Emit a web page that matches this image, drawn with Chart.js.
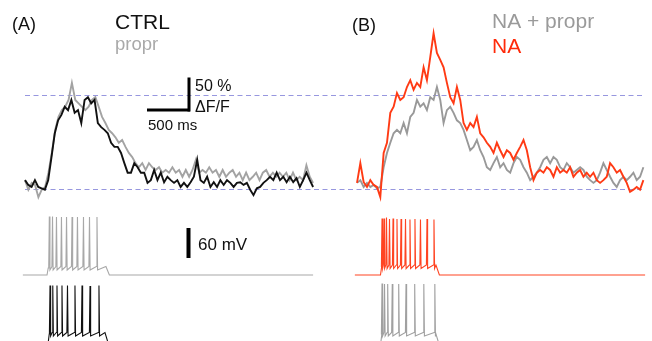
<!DOCTYPE html>
<html><head><meta charset="utf-8">
<script src="https://cdn.jsdelivr.net/npm/chart.js@4.4.0/dist/chart.umd.min.js"></script>
<style>html,body{margin:0;padding:0;background:#fff;overflow:hidden}#wrap{position:relative;width:652px;height:341px}canvas{display:block}</style>
</head><body><div id="wrap"><canvas id="c" width="652" height="341"></canvas></div>
<script>
// ===== DATA =====
// Calcium transients, % dF/F, evenly sampled over the trace duration (ms)
const ctrlA = [13,6,3,13,3,1,-1,13,47,82,101,109,121,116,131,112,116,97,131,135,126,131,97,91,87,82,68,62,62,53,38,24,24,38,32,24,24,9,13,28,13,24,10,18,13,9,13,3,9,3,10,18,43,13,9,18,3,10,3,13,6,13,9,3,9,10,6,9,-1,-9,1,3,9,13,18,13,24,13,18,10,18,10,16,3,13,24,13,3];
const proprA = [13,-1,9,6,-12,-1,3,24,53,87,106,116,121,131,156,131,126,121,116,121,131,135,121,106,97,87,82,76,68,72,62,53,47,38,32,38,28,38,32,28,32,24,28,24,32,24,28,18,28,18,28,43,24,28,24,32,24,28,18,28,18,24,28,18,24,13,24,13,18,24,13,24,28,18,24,18,24,18,24,13,24,13,18,13,35,18,9];
const naB = [9,38,10,3,13,6,3,-12,53,68,112,121,141,131,135,150,160,146,156,150,179,160,194,229,200,190,179,156,135,126,150,131,97,87,97,91,106,82,76,68,62,53,68,57,47,57,53,43,53,62,72,57,32,13,24,28,24,32,28,18,32,24,28,24,32,18,24,28,18,24,18,24,13,9,13,18,38,32,24,28,18,9,-4,-1,3,-1,13];
const naProprB = [9,13,3,9,3,6,1,3,32,53,68,82,87,82,97,82,106,112,131,121,126,116,135,131,150,131,97,116,121,112,101,97,87,72,57,62,72,57,47,32,28,38,47,32,38,28,24,38,47,43,32,24,13,18,24,32,43,47,38,47,43,32,28,38,32,24,28,32,28,18,13,9,13,24,38,28,18,9,3,13,18,13,18,24,13,18,32];
const durationA = 3350;   // ms
const durationB = 3330;   // ms
const refLevels = [0, 138]; // % dF/F dashed guides

// Membrane potential: spike times (ms), spike peaks (mV), step on/off (ms)
const restMv = -75;
const spikesProprA = [283,320,366,424,483,547,610,680,750,837];
const peaksProprA  = [42,42,41,41,41,41,41,41,41,41];
const stepProprA = [256, 953], plateauProprA = -61;
const spikesCtrlA = [291,323,372,430,494,581,663,756,860];
const peaksCtrlA  = [42,42,42,42,42,42,42,41,42];
const stepCtrlA = [268, 942], plateauCtrlA = -55;
const spikesNaB = [291,314,343,378,419,465,512,564,616,674,738,814,895];
const peaksNaB  = [38,38,40,37,38,37,37,37,36,37,36,37,36];
const stepNaB = [273, 930], plateauNaB = -58;
const spikesNaProprB = [291,320,357,410,485,570,671,777,905];
const peaksNaProprB  = [46,45,45,45,45,45,45,45,45];
const stepNaProprB = [275, 925], plateauNaProprB = -55;
const ephysSpan = [-25, 3350];

// Scale bars
const barMs = 500, barPct = 50, barMv = 60;

// ===== helpers =====
const W = 652, H = 341;
const pxPerMs = 43 / 500, pxPerPct = 0.68, pxPerMv = 0.5;
function xRange(originPx){ return {min: -originPx / pxPerMs, max: (W - originPx) / pxPerMs}; }
function yRange(v0, p0, k){ return {min: v0 - (H - p0) / k, max: v0 + p0 / k}; }
function series(vals, dur){ const dt = dur / (vals.length - 1); return vals.map((v,i)=>({x:i*dt, y:v})); }
function ephys(spikes, peaks, step, plateau){
  const p = [{x:ephysSpan[0], y:restMv},{x:step[0], y:restMv},{x:step[0]+14, y:plateau}];
  spikes.forEach((s,i)=>{
    p.push({x:s-7, y:plateau+3});
    p.push({x:s, y:peaks[i]});
    p.push({x:s+7, y:plateau-4});
  });
  p.push({x:step[1]-12, y:plateau+3});
  p.push({x:step[1]+28, y:restMv});
  p.push({x:ephysSpan[1], y:restMv});
  return p;
}
function ds(data, color, width, xId, yId){
  return {data, borderColor:color, borderWidth:width, pointRadius:0, tension:0, fill:false, xAxisID:xId, yAxisID:yId, spanGaps:true};
}

const rA = xRange(25), rB = xRange(357);
const rF = yRange(0, 189, pxPerPct);
const rE = yRange(restMv, 275, pxPerMv);
const rE2 = yRange(restMv, 344, pxPerMv);

const texts = [
  {t:'(A)', x:12, y:30, s:18, c:'#111'},
  {t:'CTRL', x:115, y:29, s:21, c:'#111'},
  {t:'propr', x:115, y:50, s:18.5, c:'#a9a9a9'},
  {t:'(B)', x:352, y:31, s:18, c:'#111'},
  {t:'NA + propr', x:492, y:28, s:21, c:'#9a9a9a'},
  {t:'NA', x:492, y:53, s:21, c:'#ff2a0a'},
  {t:'50 %', x:195, y:91, s:16, c:'#111'},
  {t:'\u0394F/F', x:195, y:112, s:16, c:'#111'},
  {t:'500 ms', x:148, y:130, s:15, c:'#111'},
  {t:'60 mV', x:198, y:250, s:17, c:'#111'}
];

const decor = {
  id:'decor',
  beforeDatasetsDraw(chart){
    const ctx = chart.ctx, yF = chart.scales.yF;
    ctx.save();
    ctx.strokeStyle = 'rgba(125,125,215,0.8)';
    ctx.lineWidth = 1;
    ctx.setLineDash([5,3.5]);
    refLevels.forEach(v=>{
      const y = Math.round(yF.getPixelForValue(v)) + 0.5;
      ctx.beginPath(); ctx.moveTo(25, y); ctx.lineTo(643, y); ctx.stroke();
    });
    ctx.restore();
  },
  afterDatasetsDraw(chart){
    const ctx = chart.ctx, s = chart.scales;
    ctx.save();
    ctx.fillStyle = '#000';
    const hLen = s.xA.getPixelForValue(barMs) - s.xA.getPixelForValue(0);
    const vLen = s.yF.getPixelForValue(0) - s.yF.getPixelForValue(barPct);
    ctx.fillRect(190 - hLen, 108.5, hLen, 3);
    ctx.fillRect(187.5, 111.5 - vLen, 3, vLen);
    const mLen = s.yE.getPixelForValue(0) - s.yE.getPixelForValue(barMv);
    ctx.fillRect(186.5, 228, 4, mLen);
    texts.forEach(o=>{
      ctx.font = o.s + 'px "Liberation Sans", Arial, sans-serif';
      ctx.fillStyle = o.c; ctx.textBaseline = 'alphabetic';
      ctx.fillText(o.t, o.x, o.y);
    });
    ctx.restore();
  }
};

new Chart(document.getElementById('c'), {
  type:'line',
  data:{datasets:[
    ds(series(ctrlA, durationA), '#111111', 1.9, 'xA', 'yF'),
    ds(series(proprA, durationA), '#a3a3a3', 1.9, 'xA', 'yF'),
    ds(series(naB, durationB), '#ff3a14', 1.9, 'xB', 'yF'),
    ds(series(naProprB, durationB), '#999999', 1.9, 'xB', 'yF'),
    ds(ephys(spikesProprA, peaksProprA, stepProprA, plateauProprA), '#a8a8a8', 1.1, 'xA', 'yE'),
    ds(ephys(spikesCtrlA, peaksCtrlA, stepCtrlA, plateauCtrlA), '#111111', 1.1, 'xA', 'yE2'),
    ds(ephys(spikesNaB, peaksNaB, stepNaB, plateauNaB), '#ff4422', 1.1, 'xB', 'yE'),
    ds(ephys(spikesNaProprB, peaksNaProprB, stepNaProprB, plateauNaProprB), '#a0a0a0', 1.1, 'xB', 'yE2')
  ]},
  options:{
    responsive:false, animation:false, devicePixelRatio:1,
    layout:{padding:0},
    plugins:{legend:{display:false}, tooltip:{enabled:false}},
    scales:{
      xA:{type:'linear', axis:'x', display:false, min:rA.min, max:rA.max},
      xB:{type:'linear', axis:'x', display:false, min:rB.min, max:rB.max},
      yF:{type:'linear', axis:'y', display:false, min:rF.min, max:rF.max},
      yE:{type:'linear', axis:'y', display:false, min:rE.min, max:rE.max},
      yE2:{type:'linear', axis:'y', display:false, min:rE2.min, max:rE2.max}
    }
  },
  plugins:[decor]
});
</script></body></html>
